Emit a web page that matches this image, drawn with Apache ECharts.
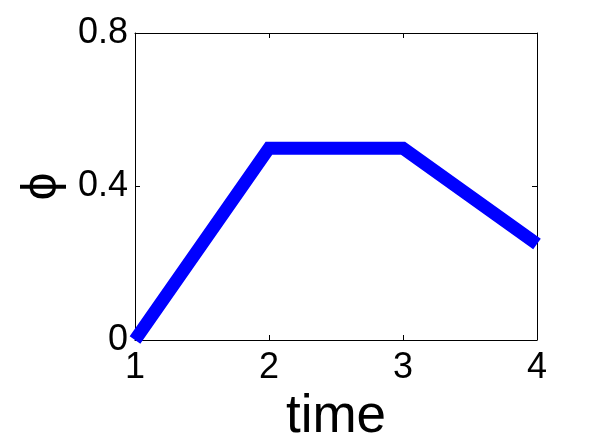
<!DOCTYPE html>
<html>
<head>
<meta charset="utf-8">
<script src="https://cdn.jsdelivr.net/npm/echarts@6/dist/echarts.min.js"></script>
<style>
  html, body { margin: 0; padding: 0; background: #fff; }
  #chart { width: 592px; height: 443px; }
</style>
</head>
<body>
<div id="chart"></div>
<script>
// data
const timeValues = [1, 2, 3, 4];
const phiValues = [0, 0.5, 0.5, 0.25];
const xTicks = [1, 2, 3, 4];
const yTicks = [0, 0.4, 0.8];

const points = timeValues.map((t, i) => [t, phiValues[i]]);

const fontFamily = '"Liberation Sans", Arial, sans-serif';

const tickStyle = { show: true, inside: true, length: 5, lineStyle: { color: '#000', width: 1 } };
const lineStyle = { show: true, onZero: false, lineStyle: { color: '#000', width: 1 } };

const chart = echarts.init(document.getElementById('chart'));

const option = {
  animation: false,
  backgroundColor: '#fff',
  grid: { left: 135, top: 33, right: 55, bottom: 103, containLabel: false, outerBoundsMode: 'none' },
  xAxis: [
    {
      type: 'value',
      min: xTicks[0],
      max: xTicks[xTicks.length - 1],
      interval: 1,
      position: 'bottom',
      name: 'time',
      nameLocation: 'middle',
      nameGap: 46,
      nameTextStyle: { fontFamily, fontSize: 53, color: '#000' },
      axisLine: lineStyle,
      axisTick: tickStyle,
      axisLabel: { fontFamily, fontSize: 36, color: '#000', margin: 10 },
      splitLine: { show: false }
    },
    {
      type: 'value',
      min: xTicks[0],
      max: xTicks[xTicks.length - 1],
      interval: 1,
      position: 'top',
      axisLine: lineStyle,
      axisTick: tickStyle,
      axisLabel: { show: false },
      splitLine: { show: false }
    }
  ],
  yAxis: [
    {
      type: 'value',
      min: yTicks[0],
      max: yTicks[yTicks.length - 1],
      interval: 0.4,
      position: 'left',
      name: 'ϕ',
      nameLocation: 'middle',
      nameRotate: 90,
      nameGap: 66,
      nameTextStyle: { fontFamily, fontSize: 50, color: '#000' },
      axisLine: lineStyle,
      axisTick: tickStyle,
      axisLabel: {
        fontFamily, fontSize: 36, color: '#000', margin: 7,
        formatter: v => (v === 0 ? '0' : String(+v.toFixed(1)))
      },
      splitLine: { show: false }
    },
    {
      type: 'value',
      min: yTicks[0],
      max: yTicks[yTicks.length - 1],
      interval: 0.4,
      position: 'right',
      axisLine: lineStyle,
      axisTick: tickStyle,
      axisLabel: { show: false },
      splitLine: { show: false }
    }
  ],
  series: [
    {
      type: 'line',
      data: points,
      xAxisIndex: 0,
      yAxisIndex: 0,
      showSymbol: false,
      symbol: 'none',
      clip: true,
      lineStyle: { color: '#0000ff', width: 13, cap: 'butt', join: 'miter' }
    }
  ]
};

chart.setOption(option);
</script>
</body>
</html>
